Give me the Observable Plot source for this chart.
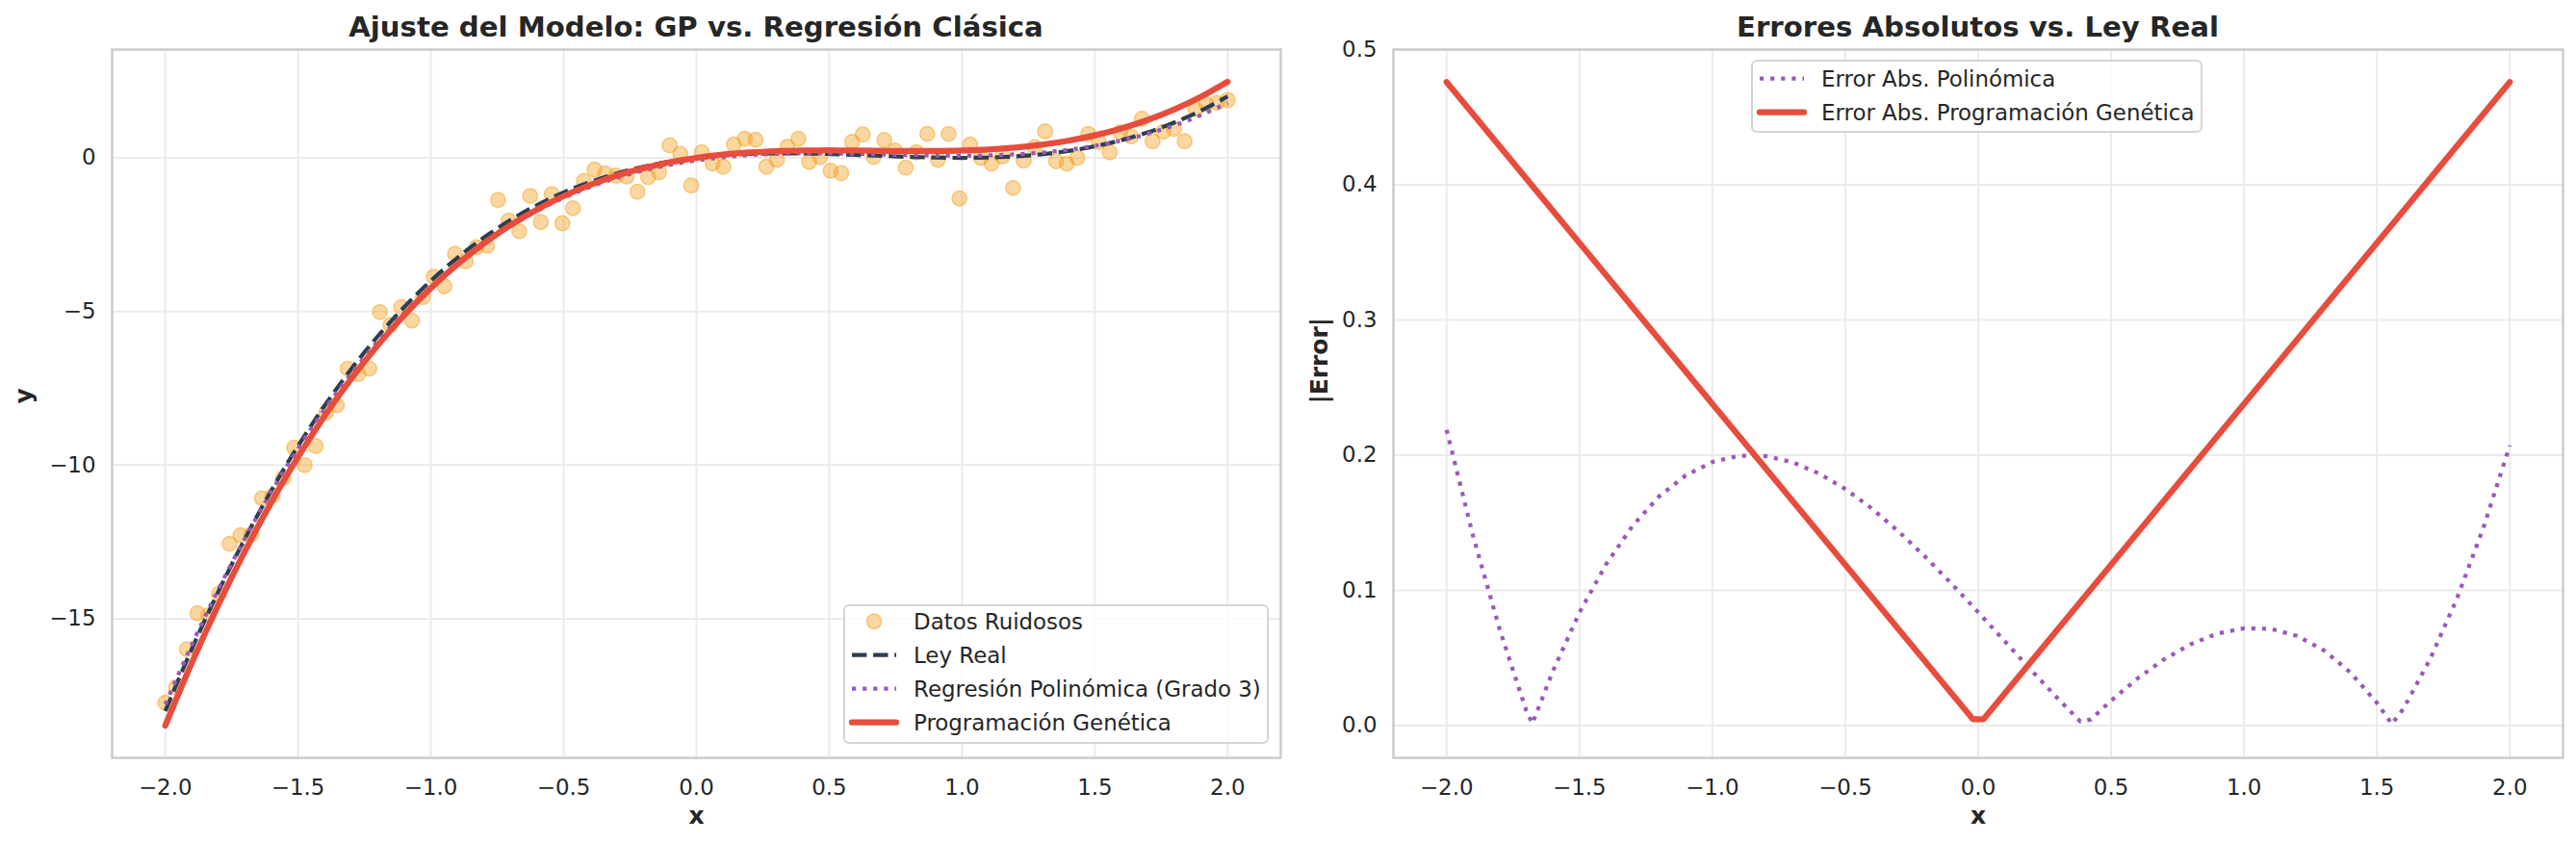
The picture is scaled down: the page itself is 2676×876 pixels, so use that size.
<!DOCTYPE html>
<html>
<head>
<meta charset="utf-8">
<script src="https://cdn.jsdelivr.net/npm/d3@7"></script>
<script src="https://cdn.jsdelivr.net/npm/@observablehq/plot@0.6"></script>
<style>
  body { margin: 0; background: #fff; }
  #fig { position: relative; width: 2676px; height: 876px; overflow: hidden;
         font-family: "DejaVu Sans", sans-serif; color: #262626; }
  .panel { position: absolute; top: 0; }
  .title { position: absolute; font-weight: bold; font-size: 29.2px; line-height: 30px;
           text-align: center; white-space: nowrap; width: 1400px; }
  .legend { position: absolute; box-sizing: border-box; border: 2px solid #d5d5d5;
            border-radius: 6px; background: rgba(255,255,255,0.8); }
  .row { position: absolute; height: 35px; line-height: 35px; font-size: 22.9px; white-space: nowrap; }
  .row svg { position: absolute; left: 0; top: 0; overflow: visible; }
  .row span { position: absolute; top: 0; }
</style>
</head>
<body>
<div id="fig">
  <div class="panel" id="left" style="left:0"></div>
  <div class="panel" id="right" style="left:1338px"></div>
  <div class="title" style="left:23px;top:13px">Ajuste del Modelo: GP vs. Regresión Clásica</div>
  <div class="title" style="left:1354.5px;top:13px">Errores Absolutos vs. Ley Real</div>
  <div class="legend" style="left:876px;top:628px;width:442px;height:145px"></div>
  <div class="legend" style="left:1819px;top:62px;width:469px;height:76px"></div>
</div>
<script>
// Noisy observations (100 samples on [-2, 2])
const noisyX = [
  -2.000,-1.960,-1.919,-1.879,-1.838,-1.798,-1.758,-1.717,-1.677,-1.636,
  -1.596,-1.556,-1.515,-1.475,-1.434,-1.394,-1.354,-1.313,-1.273,-1.232,
  -1.192,-1.152,-1.111,-1.071,-1.030,-0.990,-0.949,-0.909,-0.869,-0.828,
  -0.788,-0.747,-0.707,-0.667,-0.626,-0.586,-0.545,-0.505,-0.465,-0.424,
  -0.384,-0.343,-0.303,-0.263,-0.222,-0.182,-0.141,-0.101,-0.061,-0.020,
   0.020, 0.061, 0.101, 0.141, 0.182, 0.222, 0.263, 0.303, 0.343, 0.384,
   0.424, 0.465, 0.505, 0.545, 0.586, 0.626, 0.667, 0.707, 0.747, 0.788,
   0.828, 0.869, 0.909, 0.949, 0.990, 1.030, 1.071, 1.111, 1.152, 1.192,
   1.232, 1.273, 1.313, 1.354, 1.394, 1.434, 1.475, 1.515, 1.556, 1.596,
   1.636, 1.677, 1.717, 1.758, 1.798, 1.838, 1.879, 1.919, 1.960, 2.000
];
const noisyY = [
  -17.73,-17.23,-15.99,-14.82,-14.89,-14.19,-12.56,-12.28,-12.26,-11.08,
  -11.00,-10.42, -9.43,-10.00, -9.38, -8.29, -8.05, -6.86, -7.03, -6.86,
   -5.02, -5.44, -4.86, -5.30, -4.53, -3.87, -4.18, -3.12, -3.37, -2.91,
   -2.86, -1.37, -2.04, -2.39, -1.24, -2.09, -1.18, -2.13, -1.64, -0.76,
   -0.38, -0.51, -0.58, -0.61, -1.10, -0.63, -0.47,  0.41,  0.13, -0.90,
    0.18, -0.19, -0.29,  0.43,  0.62,  0.59, -0.29, -0.06,  0.36,  0.62,
   -0.13,  0.02, -0.42, -0.50,  0.52,  0.76,  0.03,  0.58,  0.24, -0.32,
    0.18,  0.78, -0.06,  0.78, -1.32,  0.43,  0.00, -0.19,  0.05, -0.98,
   -0.09,  0.35,  0.86, -0.11, -0.19,  0.00,  0.78,  0.52,  0.18,  0.83,
    0.70,  1.27,  0.54,  0.85,  0.94,  0.54,  1.58,  1.75,  1.79,  1.88
];

// Fitted curves, evaluated every 0.1 on [-2, 2]
const curveX = [
  -2.0,-1.9,-1.8,-1.7,-1.6,-1.5,-1.4,-1.3,-1.2,-1.1,-1.0,-0.9,-0.8,-0.7,-0.6,-0.5,-0.4,-0.3,-0.2,-0.1,
   0.0, 0.1, 0.2, 0.3, 0.4, 0.5, 0.6, 0.7, 0.8, 0.9, 1.0, 1.1, 1.2, 1.3, 1.4, 1.5, 1.6, 1.7, 1.8, 1.9, 2.0
];
const leyReal = [
  -18.000,-15.979,-14.112,-12.393,-10.816,-9.375,-8.064,-6.877,-5.808,-4.851,-4.000,-3.249,-2.592,-2.023,-1.536,-1.125,-0.784,-0.507,-0.288,-0.121,
   0.000, 0.081, 0.128, 0.147, 0.144, 0.125, 0.096, 0.063, 0.032, 0.009, 0.000, 0.011, 0.048, 0.117, 0.224, 0.375, 0.576, 0.833, 1.152, 1.539, 2.000
];
const polyFit = [
  -17.781,-15.839,-14.041,-12.382,-10.856,-9.459,-8.183,-7.025,-5.978,-5.036,-4.195,-3.449,-2.791,-2.218,-1.723,-1.300,-0.945,-0.651,-0.413,-0.226,
  -0.084, 0.019, 0.087, 0.127, 0.144, 0.144, 0.131, 0.112, 0.092, 0.077, 0.072, 0.083, 0.114, 0.173, 0.263, 0.392, 0.563, 0.784, 1.059, 1.393, 1.793
];
const gpFit = [
  -18.476,-16.431,-14.540,-12.798,-11.197,-9.732,-8.397,-7.186,-6.094,-5.113,-4.238,-3.463,-2.782,-2.190,-1.679,-1.244,-0.879,-0.578,-0.336,-0.145,
   0.000, 0.105, 0.176, 0.218, 0.239, 0.244, 0.239, 0.230, 0.222, 0.223, 0.238, 0.273, 0.334, 0.426, 0.557, 0.732, 0.957, 1.238, 1.580, 1.991, 2.476
];

// Absolute errors against the true law
const errPolyX = [
  -2.0,-1.9,-1.8,-1.7,-1.677,-1.6,-1.5,-1.4,-1.3,-1.2,-1.1,-1.0,-0.9,-0.8,-0.7,-0.6,-0.5,-0.4,-0.3,-0.2,-0.1,
   0.0, 0.1, 0.2, 0.3, 0.384, 0.424, 0.5, 0.6, 0.7, 0.8, 0.9, 1.0, 1.1, 1.2, 1.3, 1.4, 1.5, 1.556, 1.6, 1.7, 1.8, 1.9, 2.0
];
const errPoly = [
  0.2187,0.1401,0.0710,0.0110,0.0016,0.0404,0.0837,0.1193,0.1478,0.1696,0.1851,0.1950,0.1996,0.1994,0.1949,0.1866,0.1750,0.1606,0.1437,0.1250,0.1049,
  0.0839,0.0624,0.0409,0.0200,0.0031,0.0046,0.0185,0.0350,0.0491,0.0603,0.0681,0.0720,0.0716,0.0664,0.0558,0.0394,0.0168,0.0012,0.0126,0.0492,0.0935,0.1461,0.2073
];
const errGpX = [-2.0, -0.0202, 0.0202, 2.0];
const errGp = [0.476, 0.0048, 0.0048, 0.476];

// Tick values
const xTicks = [-2.0, -1.5, -1.0, -0.5, 0.0, 0.5, 1.0, 1.5, 2.0];
const yTicksLeft = [-15, -10, -5, 0];
const yTicksRight = [0.0, 0.1, 0.2, 0.3, 0.4, 0.5];

// Colours and strokes
const C_DATA = "#f39c12", C_TRUE = "#2c3e50", C_POLY = "#9b59b6", C_GP = "#e74c3c";
const GRID = "#ebebeb", SPINE = "#cccccc";
const DASH = "15.4,6.7", DOT = "4.2,6.9";

const fmt1 = d3.format(".1f");
const fmt0 = d3.format("d");
const baseStyle = {fontFamily: "DejaVu Sans", fontSize: "22.9px", color: "#262626", background: "transparent", overflow: "visible"};

const left = Plot.plot({
  width: 1338, height: 876,
  marginLeft: 116, marginRight: 8, marginTop: 51, marginBottom: 89,
  style: baseStyle,
  x: {domain: [-2.2, 2.2]},
  y: {domain: [-19.524, 3.524]},
  marks: [
    Plot.gridX(xTicks, {stroke: GRID, strokeOpacity: 1, strokeWidth: 2}),
    Plot.gridY(yTicksLeft, {stroke: GRID, strokeOpacity: 1, strokeWidth: 2}),
    Plot.axisX(xTicks, {tickSize: 0, tickPadding: 22, tickFormat: fmt1, label: null}),
    Plot.axisY(yTicksLeft, {tickSize: 0, tickPadding: 17, tickFormat: fmt0, label: null}),
    Plot.dot(noisyY, {x: noisyX, y: noisyY, r: 7.7, fill: C_DATA, fillOpacity: 0.4,
                      stroke: C_DATA, strokeOpacity: 0.45, strokeWidth: 1.5}),
    Plot.line(leyReal, {x: curveX, y: leyReal, stroke: C_TRUE, strokeWidth: 4.2,
                        strokeDasharray: DASH, strokeLinecap: "butt", curve: "catmull-rom"}),
    Plot.line(polyFit, {x: curveX, y: polyFit, stroke: C_POLY, strokeWidth: 4.2,
                        strokeDasharray: DOT, strokeLinecap: "butt", curve: "catmull-rom"}),
    Plot.line(gpFit, {x: curveX, y: gpFit, stroke: C_GP, strokeWidth: 6.25,
                      strokeLinecap: "round", curve: "catmull-rom"}),
    Plot.frame({stroke: SPINE, strokeWidth: 2.5}),
    Plot.text(["x"], {text: d => d, frameAnchor: "bottom", dy: 60, fontWeight: "bold", fontSize: 25, lineAnchor: "middle"}),
    Plot.text(["y"], {text: d => d, frameAnchor: "left", dx: -92, rotate: -90, fontWeight: "bold", fontSize: 25, lineAnchor: "middle"})
  ]
});
document.getElementById("left").appendChild(left);

const right = Plot.plot({
  width: 1338, height: 876,
  marginLeft: 109, marginRight: 14, marginTop: 51, marginBottom: 89,
  style: baseStyle,
  x: {domain: [-2.2, 2.2]},
  y: {domain: [-0.0238, 0.5]},
  marks: [
    Plot.gridX(xTicks, {stroke: GRID, strokeOpacity: 1, strokeWidth: 2}),
    Plot.gridY(yTicksRight, {stroke: GRID, strokeOpacity: 1, strokeWidth: 2}),
    Plot.axisX(xTicks, {tickSize: 0, tickPadding: 22, tickFormat: fmt1, label: null}),
    Plot.axisY(yTicksRight, {tickSize: 0, tickPadding: 17, tickFormat: fmt1, label: null}),
    Plot.line(errPoly, {x: errPolyX, y: errPoly, stroke: C_POLY, strokeWidth: 4.2,
                        strokeDasharray: DOT, strokeLinecap: "butt"}),
    Plot.line(errGp, {x: errGpX, y: errGp, stroke: C_GP, strokeWidth: 6.25,
                      strokeLinecap: "round", strokeLinejoin: "round"}),
    Plot.frame({stroke: SPINE, strokeWidth: 2.5}),
    Plot.text(["x"], {text: d => d, frameAnchor: "bottom", dy: 60, fontWeight: "bold", fontSize: 25, lineAnchor: "middle"}),
    Plot.text(["|Error|"], {text: d => d, frameAnchor: "left", dx: -77, rotate: -90, fontWeight: "bold", fontSize: 25, lineAnchor: "middle"})
  ]
});
document.getElementById("right").appendChild(right);

// Legends
const fig = document.getElementById("fig");
const NS = "http://www.w3.org/2000/svg";
function swatch(svg, kind, w) {
  const cy = 16.7;
  if (kind === "dot") {
    const c = document.createElementNS(NS, "circle");
    c.setAttribute("cx", w / 2); c.setAttribute("cy", cy); c.setAttribute("r", 7.7);
    c.setAttribute("fill", C_DATA); c.setAttribute("fill-opacity", 0.4);
    c.setAttribute("stroke", C_DATA); c.setAttribute("stroke-opacity", 0.45); c.setAttribute("stroke-width", 1.5);
    svg.appendChild(c);
    return;
  }
  const l = document.createElementNS(NS, "line");
  l.setAttribute("x1", 0); l.setAttribute("x2", w); l.setAttribute("y1", cy); l.setAttribute("y2", cy);
  if (kind === "true") { l.setAttribute("stroke", C_TRUE); l.setAttribute("stroke-width", 4.2); l.setAttribute("stroke-dasharray", DASH); }
  if (kind === "poly") { l.setAttribute("stroke", C_POLY); l.setAttribute("stroke-width", 4.2); l.setAttribute("stroke-dasharray", DOT); }
  if (kind === "gp") { l.setAttribute("stroke", C_GP); l.setAttribute("stroke-width", 6.25); l.setAttribute("stroke-linecap", "round"); }
  svg.appendChild(l);
}
function legend(entries, sampleLeft, sampleW, textLeft, baselines) {
  entries.forEach(([kind, label], i) => {
    const row = document.createElement("div");
    row.className = "row";
    row.style.left = sampleLeft + "px";
    row.style.top = (baselines[i] - 25.4) + "px";
    const svg = document.createElementNS(NS, "svg");
    svg.setAttribute("width", sampleW); svg.setAttribute("height", 35);
    swatch(svg, kind, sampleW);
    row.appendChild(svg);
    const span = document.createElement("span");
    span.style.left = (textLeft - sampleLeft) + "px";
    span.textContent = label;
    row.appendChild(span);
    fig.appendChild(row);
  });
}
legend([
  ["dot", "Datos Ruidosos"],
  ["true", "Ley Real"],
  ["poly", "Regresión Polinómica (Grado 3)"],
  ["gp", "Programación Genética"]
], 885, 46, 949, [654.3, 689.3, 724.3, 759.3]);
legend([
  ["poly", "Error Abs. Polinómica"],
  ["gp", "Error Abs. Programación Genética"]
], 1828, 46, 1892, [90, 125]);
</script>
</body>
</html>
